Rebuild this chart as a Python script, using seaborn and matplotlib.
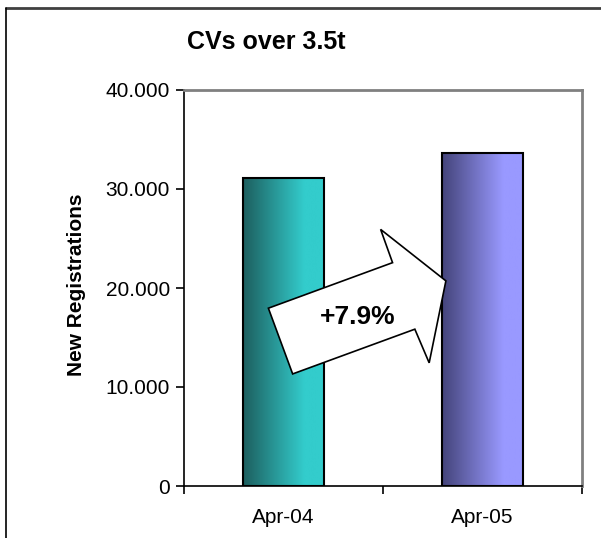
import numpy as np
import pandas as pd
import matplotlib
matplotlib.use("Agg")
import matplotlib.pyplot as plt
import seaborn as sns
from matplotlib.patches import Polygon
from matplotlib.colors import LinearSegmentedColormap
from matplotlib.ticker import FuncFormatter, FixedLocator

# ---- data ----
categories = ["Apr-04", "Apr-05"]
registrations = [31150, 33600]
change_label = "+7.9%"
title = "CVs over 3.5t"
y_label = "New Registrations"
y_ticks = [0, 10000, 20000, 30000, 40000]

# ---- style ----
sns.set_style("white")
plt.rcParams['font.family'] = ['Liberation Sans', 'DejaVu Sans']
plt.rcParams['text.color'] = 'black'
plt.rcParams['axes.labelcolor'] = 'black'
plt.rcParams['xtick.color'] = 'black'
plt.rcParams['ytick.color'] = 'black'

gradients = [
    ("#1d5e5e", "#33cccc"),
    ("#44447a", "#9999ff"),
]

df = pd.DataFrame({"cat": categories, "val": registrations})

fig = plt.figure(figsize=(6.01, 5.38), dpi=100)
ax = fig.add_axes([184/601, 1-486/538, (582-184)/601, (486-90)/538])

sns.barplot(data=df, x="cat", y="val", ax=ax, width=0.41,
            color="white", edgecolor="black", linewidth=1.5, zorder=3)

# gradient fills clipped to bars
for patch, (c0, c1) in zip(ax.patches, gradients):
    x0, y0 = patch.get_x(), patch.get_y()
    w, h = patch.get_width(), patch.get_height()
    cmap = LinearSegmentedColormap.from_list("g", [(0, c0), (0.75, c1), (1, c1)])
    grad = np.linspace(0, 1, 256).reshape(1, -1)
    im = ax.imshow(grad, cmap=cmap, aspect="auto",
                   extent=[x0, x0 + w, y0, y0 + h], zorder=2, origin="lower")
    im.set_clip_path(patch)
    patch.set_facecolor("none")
ax.set_xlim(-0.5, 1.5)
ax.set_ylim(0, 40000)

# axes styling
for s in ["left", "bottom"]:
    ax.spines[s].set_color("black")
    ax.spines[s].set_linewidth(1.2)
for s in ["top", "right"]:
    ax.spines[s].set_color("#808080")
    ax.spines[s].set_linewidth(2)

ax.yaxis.set_major_locator(FixedLocator(y_ticks))
ax.yaxis.set_major_formatter(FuncFormatter(lambda v, p: f"{int(v):,}".replace(",", ".")))
ax.tick_params(axis="y", which="major", direction="out", length=6, width=1.2,
               color="black", labelcolor="black", labelsize=15, pad=4, left=True)
ax.set_xticks(range(len(categories)))
ax.set_xticklabels(categories)
ax.tick_params(axis="x", which="major", length=0, labelsize=15, pad=16,
               labelcolor="black")
ax.set_xticks([-0.5, 0.5, 1.5], minor=True)
ax.tick_params(axis="x", which="minor", direction="out", length=6, width=1.2,
               color="black", bottom=True)
ax.set_xlabel("")
ax.set_ylabel("")

fig.text(77/601, 1-285/538, y_label, rotation=90, ha="center", va="center",
         fontsize=15, fontweight="bold", color="black")
fig.text(266/601, 1-42/538, title, ha="center", va="center",
         fontsize=18, fontweight="bold", color="black")

# arrow annotation
arrow_pts = [(0.212, 0.449), (0.273, 0.283), (0.580, 0.396), (0.616, 0.311),
             (0.658, 0.518), (0.494, 0.648), (0.524, 0.564)]
ax.add_patch(Polygon(arrow_pts, closed=True, transform=ax.transAxes,
                     facecolor="white", edgecolor="black", linewidth=1.2, zorder=5))
ax.text(0.437, 0.428, change_label, transform=ax.transAxes, ha="center",
        va="center", fontsize=19, fontweight="bold", color="black", zorder=6)

# outer frame lines (top and left)
fig.add_artist(plt.Line2D([5.5/601, 1], [1-7.5/538, 1-7.5/538],
                          transform=fig.transFigure, color="#404040", linewidth=2))
fig.add_artist(plt.Line2D([5.5/601, 5.5/601], [0, 1-7.5/538],
                          transform=fig.transFigure, color="black", linewidth=1.2))

fig.savefig("out.png", dpi=100)
